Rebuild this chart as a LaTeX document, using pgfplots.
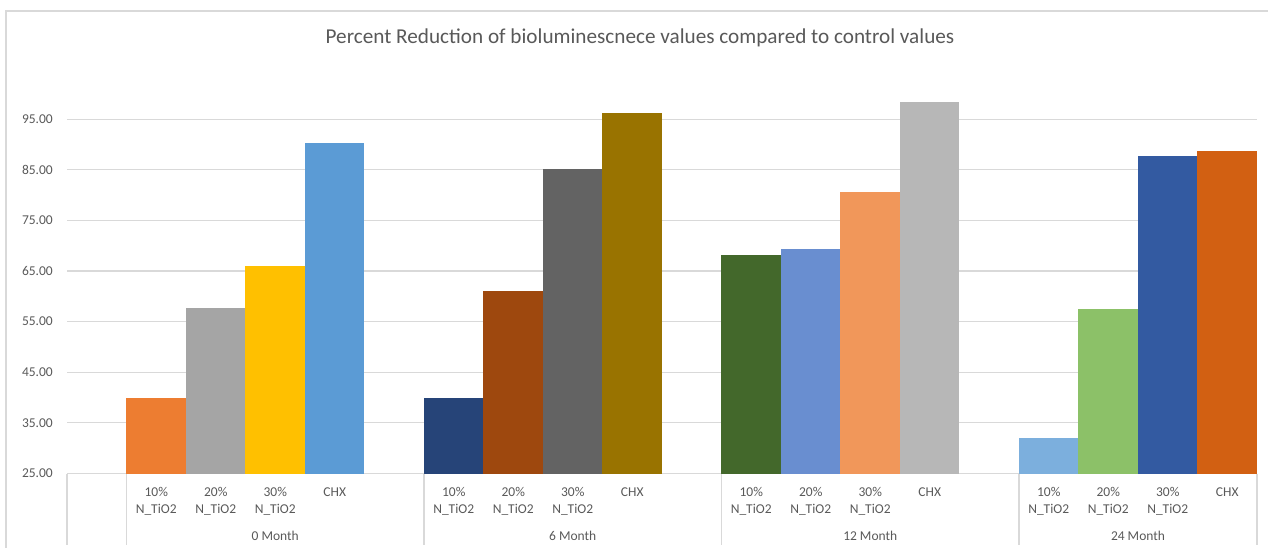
\documentclass[border=0pt]{standalone}
\usepackage{pgfplots}
\pgfplotsset{compat=1.18}
\usepackage{fontspec}
\setmainfont{Carlito}

\definecolor{txtgray}{HTML}{595959}
\definecolor{gridgray}{HTML}{D9D9D9}
% bar colours, group by group
\definecolor{a1}{HTML}{ED7D31}
\definecolor{a2}{HTML}{A5A5A5}
\definecolor{a3}{HTML}{FFC000}
\definecolor{a4}{HTML}{5B9BD5}
\definecolor{b1}{HTML}{264478}
\definecolor{b2}{HTML}{9E480E}
\definecolor{b3}{HTML}{636363}
\definecolor{b4}{HTML}{997300}
\definecolor{c1}{HTML}{43682B}
\definecolor{c2}{HTML}{698ED0}
\definecolor{c3}{HTML}{F1975A}
\definecolor{c4}{HTML}{B7B7B7}
\definecolor{d1}{HTML}{7CAFDD}
\definecolor{d2}{HTML}{8CC168}
\definecolor{d3}{HTML}{335AA1}
\definecolor{d4}{HTML}{D26012}

\pgfplotsset{
  onebar/.style={ybar, bar width=1, bar shift=0pt, draw=none, fill=#1},
}

\begin{document}
\begin{tikzpicture}
% chart frame
\draw[gridgray, line width=1.2pt] (6pt,-20pt) -- (6pt,536pt) -- (1300pt,536pt);

\node[text=txtgray, font=\fontsize{21.2}{24}\selectfont] at (640pt,509pt)
  {Percent Reduction of bioluminescnece values compared to control values};

\begin{axis}[
  at={(67pt,73.5pt)}, anchor=south west,
  scale only axis, width=1190pt, height=405pt,
  xmin=0, xmax=20, ymin=25, ymax=105,
  clip mode=individual,
  axis line style={draw=none},
  tick style={draw=none},
  ytick={25,35,...,95},
  ymajorgrids,
  major grid style={gridgray, line width=1.2pt},
  yticklabel style={text=txtgray, font=\fontsize{13.5}{16}\selectfont,
    inner sep=0pt, anchor=east, xshift=-14pt,
    /pgf/number format/fixed, /pgf/number format/fixed zerofill,
    /pgf/number format/precision=2, /pgf/number format/assume math mode=true},
  xtick={1.5,2.5,3.5,4.5,6.5,7.5,8.5,9.5,11.5,12.5,13.5,14.5,16.5,17.5,18.5,19.5},
  xticklabels={
    10\%\\N\_TiO2, 20\%\\N\_TiO2, 30\%\\N\_TiO2, CHX,
    10\%\\N\_TiO2, 20\%\\N\_TiO2, 30\%\\N\_TiO2, CHX,
    10\%\\N\_TiO2, 20\%\\N\_TiO2, 30\%\\N\_TiO2, CHX,
    10\%\\N\_TiO2, 20\%\\N\_TiO2, 30\%\\N\_TiO2, CHX},
  xticklabel style={text=txtgray, font=\fontsize{13.5}{17}\selectfont,
    align=center, anchor=north, inner sep=0pt, yshift=-14pt},
]
% 0 Month
\addplot[onebar=a1] coordinates {(1.5,40.0)};
\addplot[onebar=a2] coordinates {(2.5,57.6)};
\addplot[onebar=a3] coordinates {(3.5,66.0)};
\addplot[onebar=a4] coordinates {(4.5,90.3)};
% 6 Month
\addplot[onebar=b1] coordinates {(6.5,39.9)};
\addplot[onebar=b2] coordinates {(7.5,61.1)};
\addplot[onebar=b3] coordinates {(8.5,85.2)};
\addplot[onebar=b4] coordinates {(9.5,96.3)};
% 12 Month
\addplot[onebar=c1] coordinates {(11.5,68.2)};
\addplot[onebar=c2] coordinates {(12.5,69.3)};
\addplot[onebar=c3] coordinates {(13.5,80.7)};
\addplot[onebar=c4] coordinates {(14.5,98.4)};
% 24 Month
\addplot[onebar=d1] coordinates {(16.5,32.0)};
\addplot[onebar=d2] coordinates {(17.5,57.4)};
\addplot[onebar=d3] coordinates {(18.5,87.7)};
\addplot[onebar=d4] coordinates {(19.5,88.7)};

% category separators
\pgfplotsinvokeforeach{0,1,6,11,16,20}{
  \draw[gridgray, line width=1.2pt] (axis cs:#1,25) -- ([yshift=-71.5pt]axis cs:#1,25);
}
% group labels
\node[text=txtgray, font=\fontsize{13.5}{16}\selectfont] at ([yshift=-62pt]axis cs:3.5,25) {0 Month};
\node[text=txtgray, font=\fontsize{13.5}{16}\selectfont] at ([yshift=-62pt]axis cs:8.5,25) {6 Month};
\node[text=txtgray, font=\fontsize{13.5}{16}\selectfont] at ([yshift=-62pt]axis cs:13.5,25) {12 Month};
\node[text=txtgray, font=\fontsize{13.5}{16}\selectfont] at ([yshift=-62pt]axis cs:18,25) {24 Month};
\end{axis}

\pgfresetboundingbox
\useasboundingbox (0,0) rectangle (1268pt,547pt);
\end{tikzpicture}
\end{document}
